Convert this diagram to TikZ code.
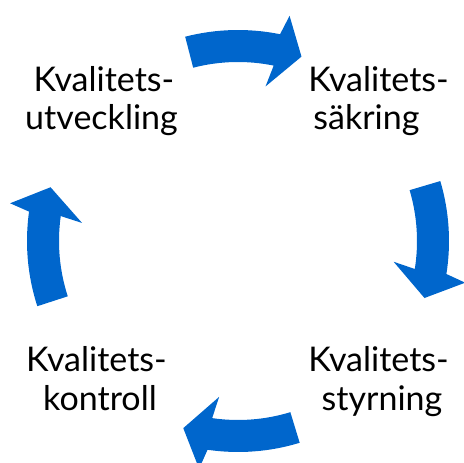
\documentclass[tikz,border=0pt]{standalone}
\usepackage{fontspec}
\setmainfont{Lato}
\definecolor{cycblue}{RGB}{0,102,204}
\newcommand\qarrow[3]{%
  \fill[cycblue] (#1:211pt) arc[start angle=#1, end angle=#2, radius=211pt]
    -- (#2-1.4:231pt) -- (#3:195pt) -- (#2+1.4:157pt) -- (#2:179pt)
    arc[start angle=#2, end angle=#1, radius=179pt] -- cycle;}
\begin{document}
\begin{tikzpicture}[x=1pt,y=1pt,
  lbl/.style={anchor=base,inner sep=0pt,font=\fontsize{34}{39}\selectfont}]
\useasboundingbox (0,0) rectangle (463,463);
\coordinate (C) at (238,222);
\begin{scope}[shift={(C)}]
  \qarrow{104.5}{78.5}{71}
  \qarrow{16.5}{-9}{-17}
  \qarrow{-73}{-98.3}{-106.3}
  \qarrow{198}{172}{164}
\end{scope}
\node[lbl] (tla) at (104,371) {Kvalitets-};
\node[lbl] (tlb) at (101.5,333) {utveckling};
\node[lbl] (tra) at (378.5,371) {Kvalitets-};
\node[lbl] (trb) at (366.5,333) {säkring};
\node[lbl] (bla) at (96.5,91) {Kvalitets-};
\node[lbl] (blb) at (100,52) {kontroll};
\node[lbl] (bra) at (378.5,91) {Kvalitets-};
\node[lbl] (brb) at (382,52) {styrning};
\end{tikzpicture}
\end{document}
